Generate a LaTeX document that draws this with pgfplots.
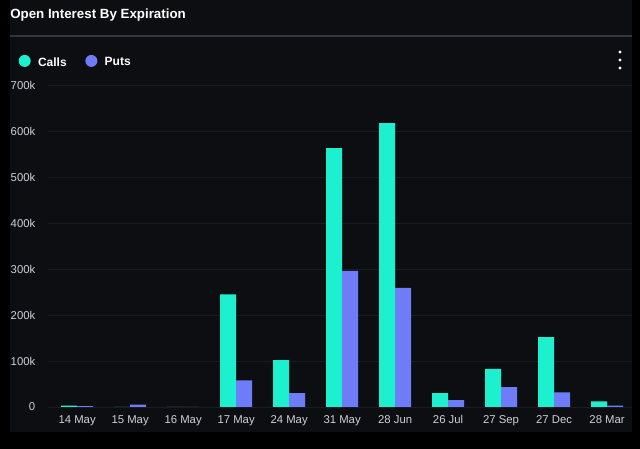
\documentclass[border=0pt]{standalone}
\usepackage{pgfplots}
\pgfplotsset{compat=1.18}
\usepackage{fontspec}
\setmainfont{Liberation Sans}
\definecolor{calls}{HTML}{1DF0CF}
\definecolor{puts}{HTML}{6F7CF8}
\definecolor{panel}{HTML}{0D0E12}
\definecolor{gridc}{HTML}{1B1C21}
\definecolor{sepc}{HTML}{34363C}
\definecolor{tickc}{HTML}{CFD0D6}
\pgfplotstableread{
x calls puts
0 3000 2000
1 0 5000
2 0 0
3 245000 58000
4 102000 30000
5 563000 296000
6 617000 259000
7 30000 15000
8 83000 43000
9 152000 32000
10 12000 3000
}\oidata
\begin{document}
\begin{tikzpicture}[x=0.75pt,y=0.75pt]
\fill[black] (0,0) rectangle (640,449);
\fill[panel] (10,17) rectangle (632,449);
\draw[sepc, line width=0.9pt] (10,413) -- (632,413);
\node[anchor=west, text=white, font=\bfseries\fontsize{10}{12}\selectfont, inner sep=0pt] at (10,434) {Open Interest By Expiration};
\foreach \yy in {381,389,397} \fill[white] (620,\yy) circle (1.7);
\begin{axis}[
  at={(36pt,31.5pt)}, anchor=south west,
  scale only axis, width=438pt, height=241.5pt,
  ybar=0pt, bar width=12pt,
  ymin=0, ymax=700000, xmin=-0.55, xmax=10.47,
  xtick={0,...,10},
  xticklabels={14 May,15 May,16 May,17 May,24 May,31 May,28 Jun,26 Jul,27 Sep,27 Dec,28 Mar},
  ytick={0,100000,200000,300000,400000,500000,600000,700000},
  yticklabels={0,100k,200k,300k,400k,500k,600k,700k},
  scaled y ticks=false,
  axis line style={draw=none},
  major tick length=0pt,
  ymajorgrids, grid style={gridc, line width=0.7pt},
  tick label style={font=\fontsize{8.5}{10}\selectfont, text=tickc},
  yticklabel style={xshift=-6pt},
  xticklabel style={yshift=-3pt},
  legend style={at={(-0.0575,1.069)}, anchor=west, draw=none, fill=none,
    text=white, font=\bfseries\fontsize{9}{11}\selectfont,
    legend columns=2, /tikz/every even column/.append style={column sep=12pt}},
]
\addplot[fill=calls, draw=none, legend image code/.code={\fill[calls] (0pt,1.4pt) circle (4.5pt);\path (8pt,0pt);}] table[x=x,y=calls] {\oidata};
\addlegendentry{Calls}
\addplot[fill=puts, draw=none, legend image code/.code={\fill[puts] (0pt,1.4pt) circle (4.5pt);\path (8pt,0pt);}] table[x=x,y=puts] {\oidata};
\addlegendentry{Puts}
\end{axis}
\end{tikzpicture}
\end{document}
